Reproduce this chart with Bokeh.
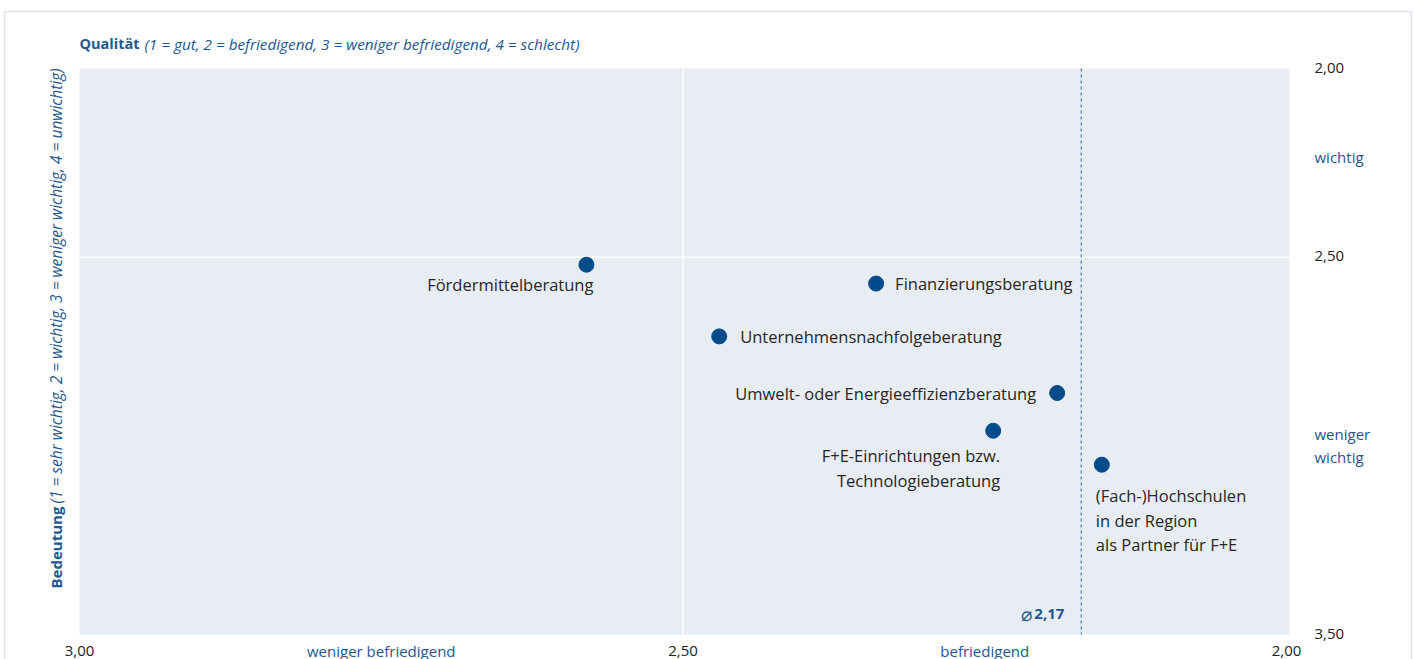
import math
from bokeh.plotting import figure
from bokeh.models import Range1d, Label, BoxAnnotation, ColumnDataSource
from bokeh.embed import file_html
from bokeh.resources import INLINE

# ---- data ----
names = [
    ["Fördermittelberatung"],
    ["Finanzierungsberatung"],
    ["Unternehmensnachfolgeberatung"],
    ["Umwelt- oder Energieeffizienzberatung"],
    ["F+E-Einrichtungen bzw.", "Technologieberatung"],
    ["(Fach-)Hochschulen", "in der Region", "als Partner für F+E"],
]
qualitaet = [2.58, 2.34, 2.47, 2.19, 2.243, 2.153]
bedeutung = [2.52, 2.57, 2.71, 2.86, 2.96, 3.05]
mean_qualitaet = 2.17
x_ticks = [3.0, 2.5, 2.0]
x_tick_labels = ["3,00", "2,50", "2,00"]
y_ticks = [2.0, 2.5, 3.5]
y_tick_labels = ["2,00", "2,50", "3,50"]
x_categories = [(2.75, "weniger befriedigend"), (2.25, "befriedigend")]
y_categories = [(2.235, ["wichtig"]), (3.0, ["weniger", "wichtig"])]

# ---- layout (pixels) ----
W, H = 1414, 659
PL, PR, PT, PB = 79, 1286, 68, 634          # scale anchors in page pixels
x0, x1 = x_ticks[0], x_ticks[-1]
y0, y1 = y_ticks[0], y_ticks[-1]
xs = (PR - PL) / (x0 - x1)
ys = (PB - PT) / (y1 - y0)

def px_x(px):
    return x0 - (px - PL) / xs

def px_y(py):
    return y0 + (py - PT) / ys

# ---- style ----
FONT = "Open Sans"
BLUE = "#22588f"
DOT = "#004b8a"
DARK = "#262626"

p = figure(width=W, height=H, output_backend="svg", toolbar_location=None,
           x_range=Range1d(px_x(0), px_x(W)), y_range=Range1d(px_y(H), px_y(0)),
           x_axis_location=None, y_axis_location=None,
           min_border=0, min_border_left=0, min_border_right=0,
           min_border_top=0, min_border_bottom=0)
p.background_fill_color = "white"
p.border_fill_color = "white"
p.outline_line_color = None
p.xgrid.visible = False
p.ygrid.visible = False

# outer frame line (decoration)
p.segment(x0=[px_x(4), px_x(4), px_x(1411)], y0=[px_y(H), px_y(11), px_y(11)],
          x1=[px_x(4), px_x(1411), px_x(1411)], y1=[px_y(11), px_y(11), px_y(H)],
          line_color="#dbe1ea", line_width=1.5)

# plot background
p.add_layout(BoxAnnotation(left=x0, right=px_x(1289), top=y0, bottom=y1,
                           fill_color="#e8edf4", fill_alpha=1.0, line_color=None,
                           level="underlay"))

# grid lines at the middle ticks
p.segment(x0=[x_ticks[1], x0], y0=[y0, y_ticks[1]], x1=[x_ticks[1], px_x(1289)], y1=[y1, y_ticks[1]],
          line_color="white", line_width=1.3)
# mean line
p.segment(x0=[mean_qualitaet], y0=[y0], x1=[mean_qualitaet], y1=[y1],
          line_color="#4f7fb8", line_width=1.3, line_dash="3 3")

src = ColumnDataSource(dict(x=qualitaet, y=bedeutung))
p.scatter("x", "y", source=src, size=15, color=DOT, line_color=DOT)

def lab(x, y, text, xo=0, yo=0, align="left", baseline="middle", color=DARK,
        size="16.5px", style="normal", angle=0):
    p.add_layout(Label(x=x, y=y, text=text, x_offset=xo, y_offset=yo, angle=angle,
                       text_align=align, text_baseline=baseline, text_color=color,
                       text_font=FONT, text_font_size=size, text_font_style=style))

# point labels: (x offset, first line y offset, align)
offs = [(7, -20, "right"), (19, 0, "left"), (21, 0, "left"), (-21, 0, "right"),
        (7, -25, "right"), (-6, -31, "left")]
for (xo, yo, al), q, b, lines in zip(offs, qualitaet, bedeutung, names):
    for i, line in enumerate(lines):
        lab(q, b, line, xo=xo, yo=yo - 24.5 * i, align=al)

# tick labels
for t, l in zip(x_ticks, x_tick_labels):
    lab(t, y1, l, yo=-16, align="center", color="#222222", size="15px")
for t, l in zip(y_ticks, y_tick_labels):
    lab(px_x(1289), t, l, xo=25, yo=1, align="left", color="#222222", size="15px")

# category labels
for c, l in x_categories:
    lab(c, y1, l, yo=-16, align="center", color=BLUE, size="15px")
for c, lines in y_categories:
    n = len(lines)
    for i, l in enumerate(lines):
        lab(px_x(1289), c, l, xo=25, yo=(n - 1) * 11.5 - 23 * i, align="left", color=BLUE, size="15px")

# mean label
lab(mean_qualitaet, y1, "2,17", xo=-17, yo=21, align="right", color=BLUE, style="bold", size="15px")
lab(mean_qualitaet, y1, "\u2300", xo=-49, yo=21, align="right", color=BLUE, size="19px")

# title
lab(x0, y0, "Qualität", yo=25, color=BLUE, style="bold", size="14.5px")
lab(x0, y0, "(1 = gut, 2 = befriedigend, 3 = weniger befriedigend, 4 = schlecht)",
    xo=65, yo=25, color=BLUE, style="italic", size="15.3px")

# vertical axis title
lab(x0, y1, "Bedeutung", xo=-24, yo=46, color=BLUE, style="bold", size="15px", angle=math.pi / 2)
lab(x0, y1, "(1 = sehr wichtig, 2 = wichtig, 3 = weniger wichtig, 4 = unwichtig)",
    xo=-24, yo=131, color=BLUE, style="italic", size="15.5px", angle=math.pi / 2)

open("out.html", "w").write(file_html(p, INLINE))
